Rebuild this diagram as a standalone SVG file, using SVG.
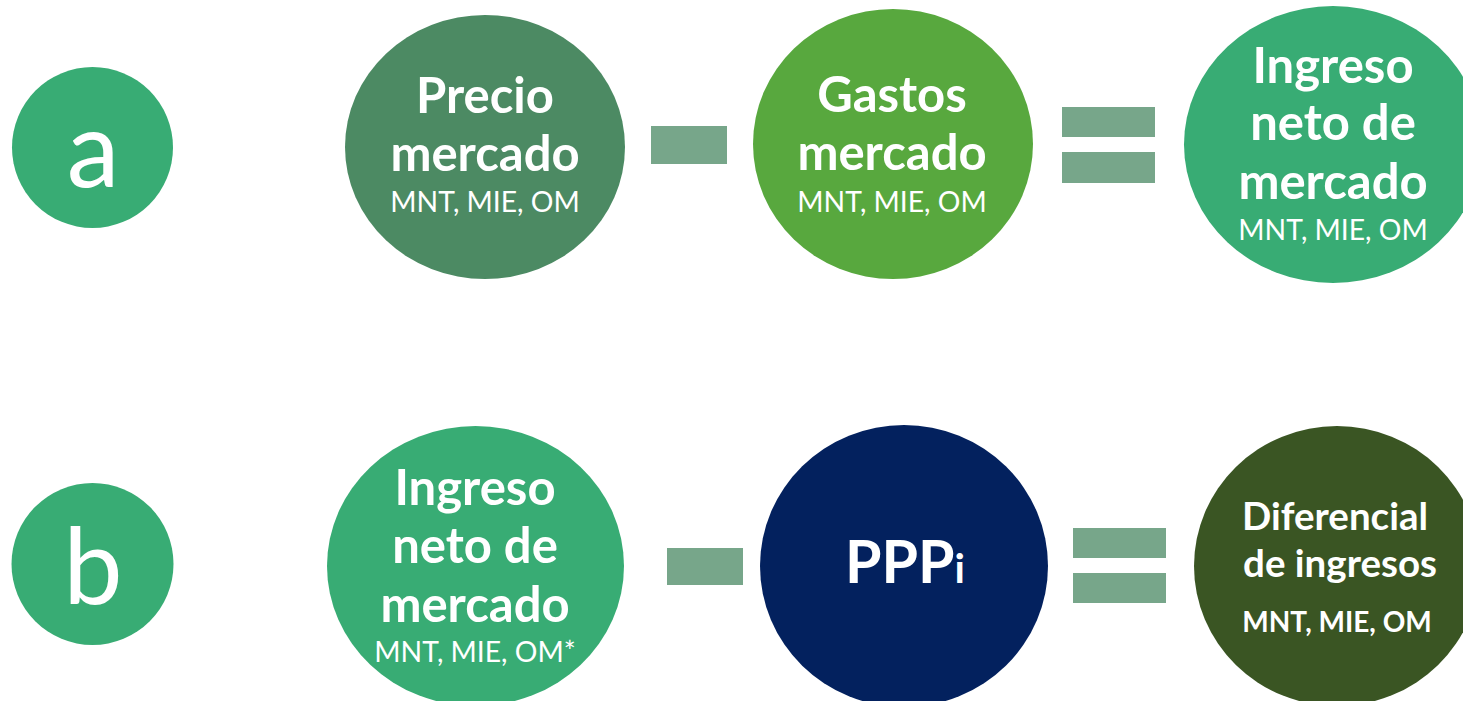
<svg xmlns="http://www.w3.org/2000/svg" width="1463" height="701" viewBox="0 0 1463 701">
<style>
  text { font-family: Lato, "Liberation Sans", sans-serif; fill: #ffffff; text-anchor: middle; }
  .h { font-weight: 700; font-size: 49px; }
  .s { font-weight: 400; font-size: 28.3px; }
  .big { font-weight: 400; font-size: 106px; }
  .d { font-weight: 700; font-size: 38.5px; }
  .bar { fill: #77A68A; }
</style>
<rect width="1463" height="701" fill="#ffffff"/>
<g id="label-a">
  <circle cx="92.5" cy="147.5" r="80.5" fill="#38AC74"/>
  <text class="big" x="93" y="187">a</text>
</g>
<g id="precio-mercado">
  <ellipse cx="485" cy="147" rx="140" ry="132" fill="#4C8A63"/>
  <text class="h" x="485" y="113">Precio</text>
  <text class="h" x="485" y="171">mercado</text>
  <text class="s" x="485" y="212">MNT, MIE, OM</text>
</g>
<g id="gastos-mercado">
  <ellipse cx="893" cy="144" rx="140" ry="135" fill="#58A83E"/>
  <text class="h" x="892" y="112">Gastos</text>
  <text class="h" x="892" y="170">mercado</text>
  <text class="s" x="892" y="212">MNT, MIE, OM</text>
</g>
<g id="ingreso-neto-a">
  <ellipse cx="1333" cy="144.5" rx="149" ry="138.5" fill="#38AC74"/>
  <text class="h" x="1333" y="83">Ingreso</text>
  <text class="h" x="1333" y="140">neto de</text>
  <text class="h" x="1333" y="199">mercado</text>
  <text class="s" x="1333" y="240">MNT, MIE, OM</text>
</g>
<g id="label-b">
  <circle cx="92.5" cy="564" r="81" fill="#38AC74"/>
  <text class="big" x="93" y="604">b</text>
</g>
<g id="ingreso-neto-b">
  <ellipse cx="475.5" cy="566" rx="148.5" ry="140" fill="#38AC74"/>
  <text class="h" x="475" y="505">Ingreso</text>
  <text class="h" x="475" y="563">neto de</text>
  <text class="h" x="475" y="622">mercado</text>
  <text class="s" x="475" y="662">MNT, MIE, OM*</text>
</g>
<g id="pppi">
  <ellipse cx="904" cy="566" rx="144" ry="141" fill="#03215E"/>
  <text x="905" y="583" font-weight="700" font-size="59px">PPP<tspan font-size="41px">i</tspan></text>
</g>
<g id="diferencial">
  <ellipse cx="1337" cy="566" rx="143" ry="140" fill="#3A5523"/>
  <text class="d" x="1335" y="530">Diferencial</text>
  <text class="d" x="1340" y="577">de ingresos</text>
  <text x="1337" y="632" font-weight="700" font-size="28px">MNT, MIE, OM</text>
</g>
<g id="connectors">
  <rect class="bar" x="651" y="126" width="76" height="38"/>
  <rect class="bar" x="1062" y="107" width="93" height="30"/>
  <rect class="bar" x="1062" y="152" width="93" height="31"/>
  <rect class="bar" x="667" y="548" width="76" height="37"/>
  <rect class="bar" x="1073" y="528" width="93" height="30"/>
  <rect class="bar" x="1073" y="573" width="93" height="30"/>
</g>
</svg>
